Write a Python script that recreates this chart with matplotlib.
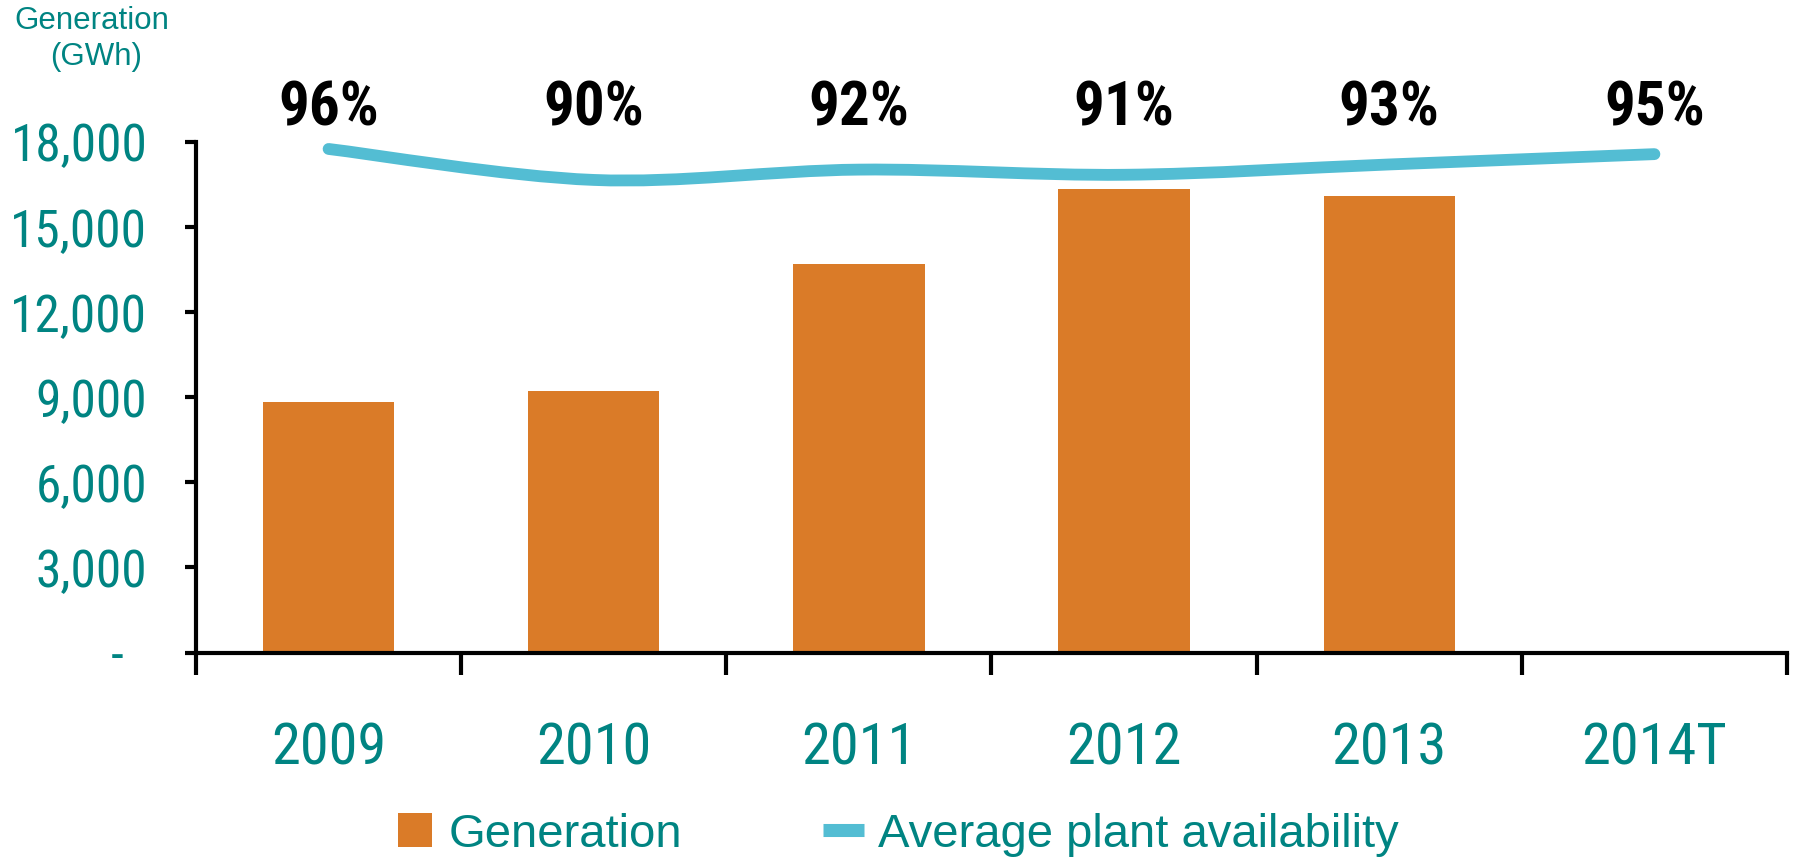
import numpy as np
import matplotlib
matplotlib.use("Agg")
import matplotlib.pyplot as plt
from matplotlib.path import Path
from matplotlib.patches import PathPatch
from matplotlib.lines import Line2D
import matplotlib.transforms as mtransforms

years = ["2009", "2010", "2011", "2012", "2013", "2014T"]
generation = [8820, 9220, 13700, 16330, 16110, np.nan]
availability = [96, 90, 92, 91, 93, 95]
avail_labels = ["96%", "90%", "92%", "91%", "93%", "95%"]
yticks = [0, 3000, 6000, 9000, 12000, 15000, 18000]

TEAL = "#008482"
ORANGE = "#DA7B28"
BLUE = "#53BDD3"
NARROW = ["Roboto Condensed", "Liberation Sans", "DejaVu Sans"]
REGULAR = ["Liberation Sans", "DejaVu Sans"]


def smooth_path(xs, ys):
    # Excel-style smoothed line: Catmull-Rom segments as cubic Bezier curves
    pts = np.column_stack([xs, ys]).astype(float)
    ext = np.vstack([pts[0], pts, pts[-1]])
    verts = [tuple(pts[0])]
    codes = [Path.MOVETO]
    for i in range(len(pts) - 1):
        p0, p1, p2, p3 = ext[i], ext[i + 1], ext[i + 2], ext[i + 3]
        c1 = p1 + (p2 - p0) / 6.0
        c2 = p2 - (p3 - p1) / 6.0
        verts += [tuple(c1), tuple(c2), tuple(p2)]
        codes += [Path.CURVE4] * 3
    return Path(verts, codes)


fig = plt.figure(figsize=(17.93, 8.60), dpi=100)
ax = fig.add_axes([196 / 1793, 1 - 652.5 / 860, (1787 - 196) / 1793, (652.5 - 142) / 860])

x = np.arange(len(years))
ax.bar(x, generation, width=0.495, color=ORANGE, zorder=2)
ax.set_xlim(-0.5, len(years) - 0.5)
ax.set_ylim(0, 18000)

for side in ("top", "right"):
    ax.spines[side].set_visible(False)
for side in ("left", "bottom"):
    ax.spines[side].set_linewidth(3)
    ax.spines[side].set_capstyle("projecting")

ax.set_yticks(yticks)
ax.set_yticklabels(["-  "] + [f"{v:,}" for v in yticks[1:]])
ax.tick_params(axis="y", direction="out", length=8, width=3, pad=27,
               labelsize=37, labelcolor=TEAL)
for lbl in ax.get_yticklabels():
    lbl.set_family(NARROW)

ax.set_xticks(x)
ax.set_xticklabels(years)
ax.set_xticks(np.arange(-0.5, len(years)), minor=True)
ax.tick_params(axis="x", which="major", length=0, pad=50, labelsize=42, labelcolor=TEAL)
ax.tick_params(axis="x", which="minor", direction="out", length=16, width=3)
for lbl in ax.get_xticklabels():
    lbl.set_family(NARROW)

# availability on a hidden secondary scale
ax2 = ax.twinx()
ax2.set_ylim(-1.55, 97.35)
ax2.axis("off")
ax2.add_patch(PathPatch(smooth_path(x, availability), facecolor="none",
                        edgecolor=BLUE, linewidth=8.5, capstyle="round", zorder=3))

trans = mtransforms.blended_transform_factory(ax.transData, fig.transFigure)
for xi, lab in zip(x, avail_labels):
    ax.text(xi, 1 - 125 / 860, lab, transform=trans, ha="center", va="baseline",
            fontsize=44, fontweight="bold", family=NARROW, color="black")

fig.text(92 / 1793, 1 - 21 / 860, "Generation", ha="center", va="center",
         fontsize=22.5, color=TEAL, family=REGULAR)
fig.text(96 / 1793, 1 - 57 / 860, "(GWh)", ha="center", va="center",
         fontsize=22.5, color=TEAL, family=REGULAR)

handles = [
    Line2D([], [], marker="s", markersize=24.5, markeredgewidth=0,
           markerfacecolor=ORANGE, linestyle="none"),
    Line2D([], [], color=BLUE, linewidth=9.4, solid_capstyle="butt"),
]
leg = fig.legend(handles, ["Generation", "Average plant availability"],
                 loc="center", bbox_to_anchor=(0.5, 1 - 835 / 860), ncol=2,
                 frameon=False, handlelength=0.87, handletextpad=0.28,
                 columnspacing=2.98, borderpad=0, prop={"family": REGULAR, "size": 34})
for t in leg.get_texts():
    t.set_color(TEAL)

fig.savefig("out.png", dpi=100, facecolor="white")
